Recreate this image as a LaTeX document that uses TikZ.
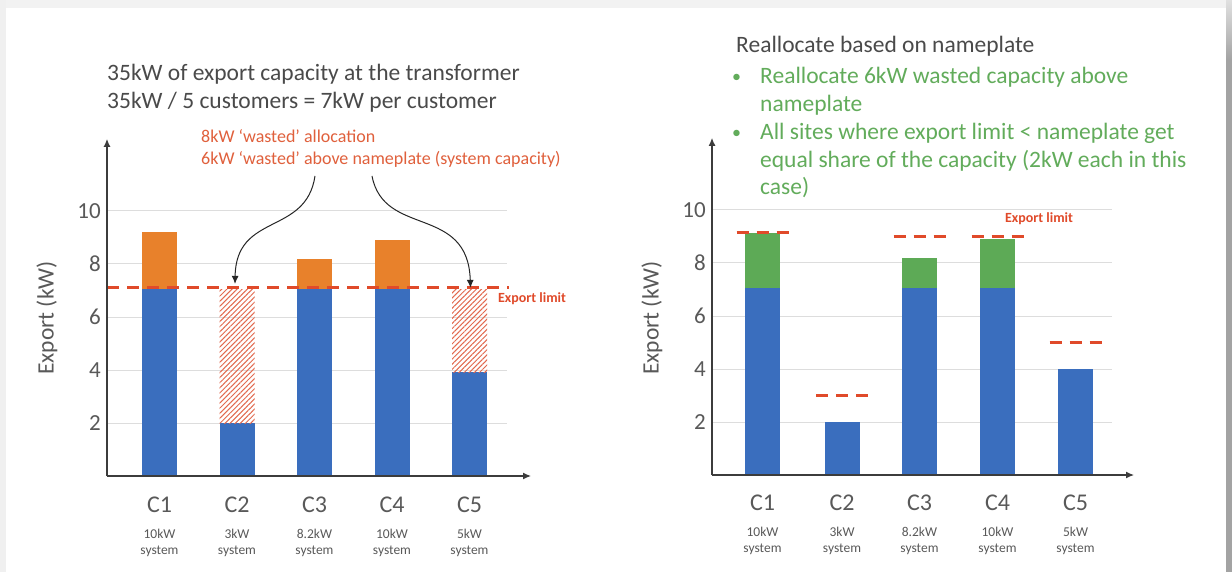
\documentclass[tikz,border=0pt]{standalone}
\usepackage{fontspec}
\setmainfont{Carlito}
\usetikzlibrary{arrows.meta,patterns.meta}

\definecolor{barblue}{HTML}{3A6EBE}
\definecolor{barorange}{HTML}{E8812B}
\definecolor{bargreen}{HTML}{5DAA56}
\definecolor{limitred}{HTML}{E04A2A}
\definecolor{hatchred}{HTML}{E2694E}
\definecolor{notered}{HTML}{E0603C}
\definecolor{txtgrey}{HTML}{595959}
\definecolor{titlegrey}{HTML}{4A4A4A}
\definecolor{gridgrey}{HTML}{DDDDDD}
\definecolor{axisgrey}{HTML}{3C3C3C}
\definecolor{bulletgreen}{HTML}{62AC5B}

\tikzset{
  gridline/.style={draw=gridgrey, line width=1pt},
  axisline/.style={draw=axisgrey, line width=1.2pt, -{Latex[length=8pt,width=7pt]}},
  limitline/.style={draw=limitred, line width=3pt, dash pattern=on 12pt off 8pt},
  ticklab/.style={anchor=east, text=txtgrey, font=\fontsize{23}{26}\selectfont, inner sep=0pt},
  catlab/.style={text=txtgrey, font=\fontsize{24}{28}\selectfont, inner sep=0pt},
  syslab/.style={text=txtgrey, font=\fontsize{13.5}{15.5}\selectfont, align=center, inner sep=0pt},
  ylab/.style={rotate=90, text=txtgrey, font=\fontsize{23.5}{27}\selectfont, inner sep=0pt},
  limitlab/.style={text=limitred, font=\fontsize{14}{16}\selectfont\bfseries, inner sep=0pt},
  hatched/.style={pattern={Lines[angle=45,distance=3.6pt,line width=1pt]}, pattern color=hatchred},
  callout/.style={draw=black!85, line width=1pt, -{Latex[length=8pt,width=7pt]}},
  headline/.style={anchor=base west, text=titlegrey, font=\fontsize{23.5}{28}\selectfont, inner sep=0pt},
  bulletline/.style={anchor=base west, text=bulletgreen, font=\fontsize{23.5}{28}\selectfont, inner sep=0pt},
  noteline/.style={anchor=base west, text=notered, font=\fontsize{18}{22}\selectfont, inner sep=0pt},
}

\begin{document}
\begin{tikzpicture}[x=1pt,y=-1pt]
\useasboundingbox (0,0) rectangle (1232,572);
% slide frame
\fill[white] (0,0) rectangle (1232,572);
\fill[black!5] (0,0) rectangle (1232,8);
\fill[black!6] (0,0) rectangle (6,572);
\shade[top color=black!12, bottom color=black!36] (1226,0) rectangle (1232,60);
\fill[black!36] (1226,60) rectangle (1232,572);

% ---------------- left panel ----------------
\node[headline] (t1) at (107,81) {35kW of export capacity at the transformer};
\node[headline] (t2) at (107,109) {35kW / 5 customers = 7kW per customer};

\node[noteline] (n1) at (201,143) {8kW ‘wasted’ allocation};
\node[noteline] (n2) at (201,165) {6kW ‘wasted’ above nameplate (system capacity)};

\node[ylab] (ly) at (47,318) {Export (kW)};

\begin{scope}[shift={(0pt,-476pt)}, y=26.5pt]
  \foreach \v in {2,4,6,8,10} {
    \draw[gridline] (107,\v) -- (507,\v);
    \node[ticklab] (lt\v) at (101,\v) {\v};
  }
  % stacked bars: centre / top of blue part / top of upper part
  \foreach \c/\a/\b in {159.5/7.05/9.2, 314.5/7.05/8.2, 392/7.05/8.9} {
    \fill[barblue] (\c-17.5,0) rectangle (\c+17.5,\a);
    \fill[barorange] (\c-17.5,\a) rectangle (\c+17.5,\b);
  }
  \foreach \c/\a in {237/2, 469.5/3.92} {
    \fill[barblue] (\c-17.5,0) rectangle (\c+17.5,\a);
    \fill[hatched] (\c-17.5,\a) rectangle (\c+17.5,7.05);
  }
  \draw[limitline] (107,7.1) -- (509,7.1);
  \node[limitlab] (ll) at (532,6.68) {Export limit};
  \draw[axisline] (107,0) -- (107,12.72);
  \draw[axisline] (107,0) -- (531,0);
  \coordinate (tipA) at (235,7.25);
  \coordinate (tipB) at (470.5,7.1);
\end{scope}

\coordinate (srcA) at (315,176);
\coordinate (srcB) at (372,176);
\draw[callout] (srcA) .. controls (306,236) and (236,212) .. (tipA);
\draw[callout] (srcB) .. controls (384,238) and (468,204) .. (tipB);

\foreach \c/\n/\s [count=\i] in {159.5/C1/10kW, 237/C2/3kW, 314.5/C3/8.2kW, 392/C4/10kW, 469.5/C5/5kW} {
  \node[catlab] (lc\i) at (\c,505) {\n};
  \node[syslab] (ls\i) at (\c,543) {\s\\system};
}

% ---------------- right panel ----------------
\node[headline] (rt) at (736,53) {Reallocate based on nameplate};
\foreach \y/\txt [count=\i] in {84/Reallocate 6kW wasted capacity above, 112/nameplate, 140/All sites where export limit < nameplate get, 168/equal share of the capacity (2kW each in this, 195/case)} {
  \node[bulletline] (rb\i) at (760,\y) {\txt};
}
\node[bulletline, font=\fontsize{18}{22}\selectfont] (bu1) at (732,83) {•};
\node[bulletline, font=\fontsize{18}{22}\selectfont] (bu2) at (732,139) {•};

\node[ylab] (ry) at (652,318) {Export (kW)};

\begin{scope}[shift={(0pt,-475pt)}, y=26.5pt]
  \foreach \v in {2,4,6,8,10} {
    \draw[gridline] (712,\v) -- (1112,\v);
    \node[ticklab] (rtk\v) at (706,\v) {\v};
  }
  \foreach \c/\a/\b in {762.5/7.05/9.15, 919.5/7.05/8.2, 997.5/7.05/8.9} {
    \fill[barblue] (\c-17.5,0) rectangle (\c+17.5,\a);
    \fill[bargreen] (\c-17.5,\a) rectangle (\c+17.5,\b);
  }
  \foreach \c/\a in {842/2, 1075.5/4} {
    \fill[barblue] (\c-17.5,0) rectangle (\c+17.5,\a);
  }
  \foreach \c/\l in {762.5/9.15, 842/3, 919.5/9, 997.5/9, 1075.5/5} {
    \draw[limitline] (\c-26,\l) -- (\c+26,\l);
  }
  \node[limitlab] (rl) at (1039,9.68) {Export limit};
  \draw[axisline] (712,0) -- (712,12.72);
  \draw[axisline] (712,0) -- (1134,0);
\end{scope}

\foreach \c/\n/\s [count=\i] in {762.5/C1/10kW, 842/C2/3kW, 919.5/C3/8.2kW, 997.5/C4/10kW, 1075.5/C5/5kW} {
  \node[catlab] (rc\i) at (\c,503) {\n};
  \node[syslab] (rs\i) at (\c,541) {\s\\system};
}
\end{tikzpicture}
\end{document}
